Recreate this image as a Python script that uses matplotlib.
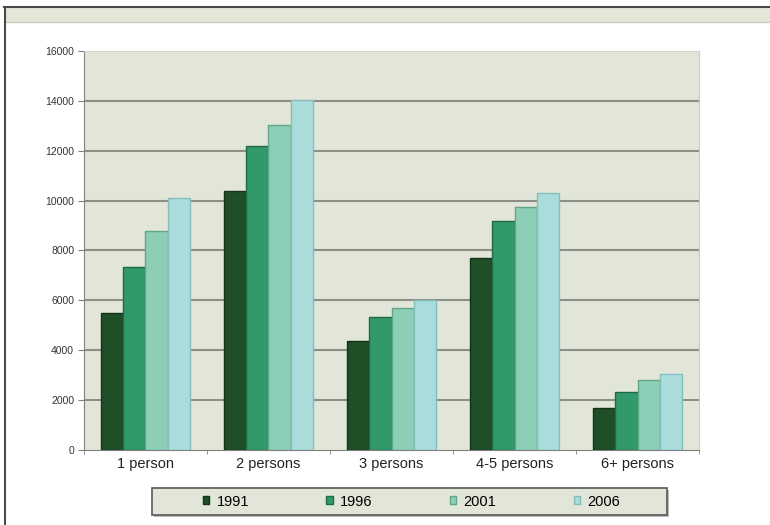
import numpy as np
import matplotlib
matplotlib.use('Agg')
import matplotlib.pyplot as plt
from matplotlib.patches import Rectangle
from matplotlib.lines import Line2D

plt.rcParams['font.family'] = ['Liberation Sans', 'DejaVu Sans']

# households by size, census years
categories = ['1 person', '2 persons', '3 persons', '4-5 persons', '6+ persons']
years = ['1991', '1996', '2001', '2006']
v1991 = [5500, 10400, 4370, 7710, 1700]
v1996 = [7350, 12200, 5320, 9180, 2330]
v2001 = [8800, 13050, 5690, 9730, 2810]
v2006 = [10100, 14050, 6030, 10290, 3050]
yticks = [0, 2000, 4000, 6000, 8000, 10000, 12000, 14000, 16000]

series = [v1991, v1996, v2001, v2006]
colors = ['#1f4f26', '#31996a', '#8dcfb6', '#a9dcda']
edges = ['#143318', '#1f6b48', '#5fa68b', '#86bdbb']

W, H = 770, 525
fig = plt.figure(figsize=(W / 100, H / 100), dpi=100)
fig.patch.set_facecolor('white')

# header band and left frame line
fig.patches.append(Rectangle((0.005, 0.958), 0.995, 0.029, transform=fig.transFigure,
                             facecolor='#e2e7d8', edgecolor='none', zorder=0))
fig.lines.append(Line2D([0.005, 1], [0.987, 0.987], transform=fig.transFigure,
                        color='#4a4a4a', lw=1.5))
fig.lines.append(Line2D([0.005, 1], [0.958, 0.958], transform=fig.transFigure,
                        color='#c9cec0', lw=1))
fig.lines.append(Line2D([0.006, 0.006], [0, 0.987], transform=fig.transFigure,
                        color='#4a4a4a', lw=1.5))

ax = fig.add_axes([0.109, 0.1429, 0.799, 0.76])
ax.set_facecolor('#e1e6d8')

x = np.arange(len(categories))
w = 0.18
for i, (vals, c, ec) in enumerate(zip(series, colors, edges)):
    ax.bar(x + (i - 1.5) * w, vals, width=w, color=c, edgecolor=ec, linewidth=1,
           label=years[i], zorder=3)

ax.set_xlim(-0.5, len(categories) - 0.5)
ax.set_ylim(0, 16000)
ax.set_yticks(yticks)
ax.set_yticklabels([str(t) for t in yticks], fontsize=7.5, color='#333333')
for t in yticks[1:-1]:
    ax.axhline(t, color='#8b8f86', lw=1.5, zorder=1)

ax.set_xticks(x)
ax.set_xticklabels(categories, fontsize=10.5, color='#222222')
ax.set_xticks(np.arange(-0.5, len(categories)), minor=True)
ax.tick_params(axis='x', which='major', length=0, pad=5)
ax.tick_params(axis='x', which='minor', length=3, color='#808080')
ax.tick_params(axis='y', length=4, color='#808080', pad=3)

ax.spines['left'].set_color('#808080')
ax.spines['bottom'].set_color('#808080')
ax.spines['top'].set_color('#d0d4ca')
ax.spines['right'].set_color('#c8ccc2')

# legend box with a soft shadow
bx, by, bw, bh = 152 / W, 1 - 515 / H, 515 / W, 27 / H
fig.patches.append(Rectangle((bx + 2 / W, by - 2 / H), bw, bh, transform=fig.transFigure,
                             facecolor='#b8b8b8', edgecolor='none', zorder=1))
fig.patches.append(Rectangle((bx, by), bw, bh, transform=fig.transFigure,
                             facecolor='#e1e6d8', edgecolor='#5a5a5a', lw=1.2, zorder=2))

handles = [Rectangle((0, 0), 1, 1, facecolor=c, edgecolor=ec) for c, ec in zip(colors, edges)]
leg = fig.legend(handles, years, loc='center', ncol=4,
                 bbox_to_anchor=(bx + bw / 2 + 2 / W, by + bh / 2),
                 fontsize=10.5, handlelength=0.45, handleheight=0.45, handletextpad=0.5,
                 columnspacing=5.3, frameon=False)
leg.set_zorder(3)

fig.savefig('out.png', dpi=100)
